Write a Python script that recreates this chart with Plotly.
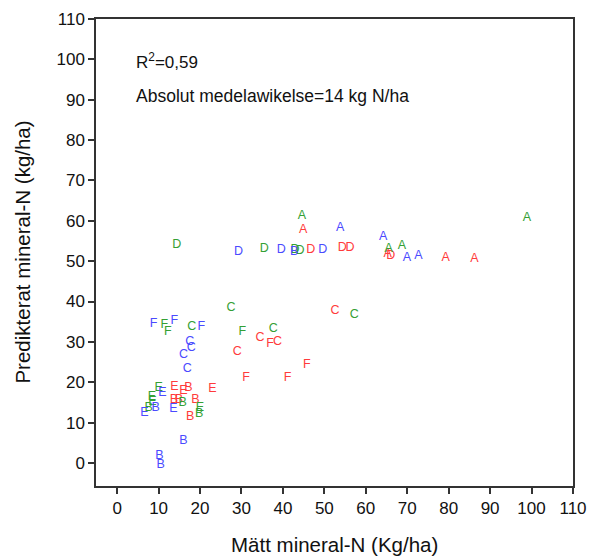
import plotly.graph_objects as go

# Measured vs predicted mineral N (kg/ha); each point is labelled by its site letter
red_x = [44.9, 65.3, 79.3, 86.2, 46.7, 54.3, 56.2, 66.0, 52.6, 34.5, 38.7, 29.0,
         36.9, 45.8, 41.1, 31.1, 13.8, 16.0, 23.0, 17.2, 13.7, 14.9, 18.9, 17.6]
red_y = [57.7, 51.8, 50.8, 50.5, 52.8, 53.2, 53.2, 51.2, 37.7, 31.1, 30.1, 27.5,
         29.6, 24.3, 21.0, 21.2, 18.9, 17.9, 18.3, 18.7, 15.7, 15.6, 15.6, 11.5]
red_lbl = ["A", "A", "A", "A", "D", "D", "D", "D", "C", "C", "C", "C",
           "F", "F", "F", "F", "E", "E", "E", "B", "B", "B", "B", "B"]

green_x = [44.6, 65.5, 68.7, 98.9, 14.4, 35.5, 42.9, 44.1, 27.5, 57.2, 37.7, 18.0,
           11.4, 12.2, 30.2, 10.0, 8.4, 8.5, 20.0, 7.6, 15.8, 19.8]
green_y = [61.3, 53.0, 53.7, 60.7, 54.1, 53.0, 52.9, 52.6, 38.4, 36.7, 33.2, 33.8,
           34.2, 32.5, 32.6, 18.7, 16.5, 15.1, 13.6, 13.7, 15.0, 12.1]
green_lbl = ["A", "A", "A", "A", "D", "D", "D", "D", "C", "C", "C", "C",
             "F", "F", "F", "E", "E", "E", "E", "B", "B", "B"]

blue_x = [53.8, 64.2, 69.9, 72.7, 29.3, 39.6, 49.6, 42.7, 9.3, 16.0, 10.2, 10.5,
          17.5, 17.9, 16.0, 16.9, 8.8, 13.8, 20.3, 10.9, 6.6, 13.6]
blue_y = [58.2, 55.9, 50.9, 51.4, 52.4, 52.8, 52.8, 52.2, 13.6, 5.5, 1.7, -0.5,
          30.1, 28.4, 26.7, 23.4, 34.4, 35.2, 33.6, 17.4, 12.3, 13.5]
blue_lbl = ["A", "A", "A", "A", "D", "D", "D", "B", "B", "B", "B", "B",
            "C", "C", "C", "C", "F", "F", "F", "E", "E", "E"]

x_ticks = list(range(0, 111, 10))
y_ticks = list(range(0, 111, 10))

FONT = "Liberation Sans, Arial, sans-serif"

fig = go.Figure()
for xs, ys, lbl, col in [(red_x, red_y, red_lbl, "#ff3b3b"),
                         (green_x, green_y, green_lbl, "#34a034"),
                         (blue_x, blue_y, blue_lbl, "#4a4aff")]:
    fig.add_trace(go.Scatter(
        x=xs, y=ys, text=lbl, mode="text",
        textposition="middle center",
        textfont=dict(family=FONT, size=12.5, color=col),
        showlegend=False, hoverinfo="x+y+text"))

axis_common = dict(
    showgrid=False, zeroline=False, showline=True, mirror=True,
    linecolor="#333333", linewidth=1.5,
    ticks="outside", ticklen=6, tickwidth=1.5, tickcolor="#333333",
    tickfont=dict(family=FONT, size=17, color="#111111"),
    automargin=False,
)

title_font = dict(family=FONT, size=20.5, color="#111111")
note_font = dict(family=FONT, size=17, color="#111111")

fig.update_layout(
    width=593, height=557,
    margin=dict(l=96, r=20, t=19, b=71),
    paper_bgcolor="white", plot_bgcolor="white",
    xaxis=dict(range=[-5.1, 110], tickvals=x_ticks, **axis_common),
    yaxis=dict(range=[-5.7, 110], tickvals=y_ticks, **axis_common),
    annotations=[
        # axis titles
        dict(text="Mätt mineral-N (Kg/ha)", x=0.5, y=-0.126,
             xref="paper", yref="paper", xanchor="center", yanchor="middle",
             showarrow=False, font=title_font),
        dict(text="Predikterat mineral-N (kg/ha)", x=-0.155, y=0.5, textangle=-90,
             xref="paper", yref="paper", xanchor="center", yanchor="middle",
             showarrow=False, font=title_font),
        # fit statistics
        dict(text="R<sup>2</sup>=0,59", x=0.080, y=0.91, xref="paper", yref="paper",
             xanchor="left", yanchor="middle", showarrow=False, font=note_font),
        dict(text="Absolut medelawikelse=14 kg N/ha", x=0.080, y=0.835,
             xref="paper", yref="paper", xanchor="left", yanchor="middle",
             showarrow=False, font=dict(note_font, size=17.5)),
    ],
)

fig.write_html("out.html")
